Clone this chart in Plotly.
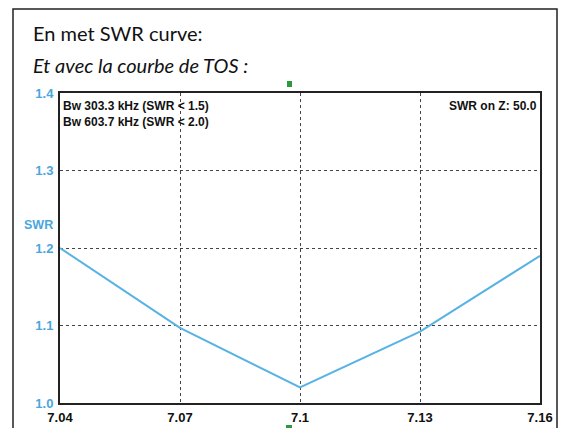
import plotly.graph_objects as go

freq = [7.04, 7.07, 7.10, 7.13, 7.16]
swr = [1.200, 1.097, 1.020, 1.092, 1.190]
x_ticks = [7.04, 7.07, 7.10, 7.13, 7.16]
x_tick_labels = ["7.04", "7.07", "7.1", "7.13", "7.16"]
y_ticks = [1.0, 1.1, 1.2, 1.3, 1.4]
y_tick_labels = ["1.0", "1.1", "1.2", "1.3", "1.4"]

W, H = 563, 428
L, R, T, B = 60, 23, 93, 25
pw, ph = W - L - R, H - T - B

def px(x):
    return (x - L) / pw

def py(y):
    return (H - B - y) / ph

fig = go.Figure()
fig.add_trace(go.Scatter(x=freq, y=swr, mode="lines",
                         line=dict(color="#58b2e4", width=2), hoverinfo="skip"))

fig.update_layout(
    width=W, height=H,
    margin=dict(l=L, r=R, t=T, b=B),
    paper_bgcolor="white", plot_bgcolor="white",
    showlegend=False,
    xaxis=dict(range=[7.04, 7.16], tickvals=x_ticks, ticktext=x_tick_labels,
               showgrid=True, gridcolor="#444444", griddash="dot", gridwidth=1,
               zeroline=False, showline=True, linecolor="#222222", linewidth=2,
               mirror=True, ticks="", ticklabelstandoff=1, automargin=False,
               tickfont=dict(family="Liberation Sans, Arial", size=13, color="#111111", weight="bold")),
    yaxis=dict(range=[1.0, 1.4], tickvals=y_ticks, ticktext=y_tick_labels,
               showgrid=True, gridcolor="#444444", griddash="dot", gridwidth=1,
               zeroline=False, showline=True, linecolor="#222222", linewidth=2,
               mirror=True, ticks="", ticklabelstandoff=2, automargin=False,
               tickfont=dict(family="Liberation Sans, Arial", size=13, color="#4aa6de", weight="bold")),
)

# outer frame
fig.add_shape(type="rect", xref="paper", yref="paper",
              x0=px(13), x1=px(557), y0=py(440), y1=py(9),
              line=dict(color="#222222", width=1.5), layer="below")

# green markers
fig.add_shape(type="rect", xref="paper", yref="paper",
              x0=px(287), x1=px(292), y0=py(87), y1=py(81),
              fillcolor="#2a9a3a", line=dict(width=0))
fig.add_shape(type="rect", xref="paper", yref="paper",
              x0=px(286), x1=px(292), y0=py(432), y1=py(425),
              fillcolor="#2a9a3a", line=dict(width=0))

fig.add_annotation(text="En met SWR curve:", xref="paper", yref="paper",
                   x=px(31), y=py(19), xanchor="left", yanchor="top", showarrow=False,
                   font=dict(family="Lato", size=20, color="#111111"))
fig.add_annotation(text="<i>Et avec la courbe de TOS :</i>", xref="paper", yref="paper",
                   x=px(31), y=py(51), xanchor="left", yanchor="top", showarrow=False,
                   font=dict(family="Lato", size=20, color="#111111"))

fig.add_annotation(text="<b>Bw 303.3 kHz (SWR < 1.5)<br>Bw 603.7 kHz (SWR < 2.0)</b>",
                   xref="paper", yref="paper", x=px(61), y=py(97),
                   xanchor="left", yanchor="top", align="left", showarrow=False,
                   font=dict(family="Liberation Sans, Arial", size=12, color="#111111"))
fig.add_annotation(text="<b>SWR on Z: 50.0</b>", xref="paper", yref="paper",
                   x=px(539), y=py(97), xanchor="right", yanchor="top", showarrow=False,
                   font=dict(family="Liberation Sans, Arial", size=12, color="#111111"))
fig.add_annotation(text="<b>SWR</b>", xref="paper", yref="paper",
                   x=px(22), y=py(225), xanchor="left", yanchor="middle", showarrow=False,
                   font=dict(family="Liberation Sans, Arial", size=12.5, color="#4aa6de"))

fig.write_html("out.html")
